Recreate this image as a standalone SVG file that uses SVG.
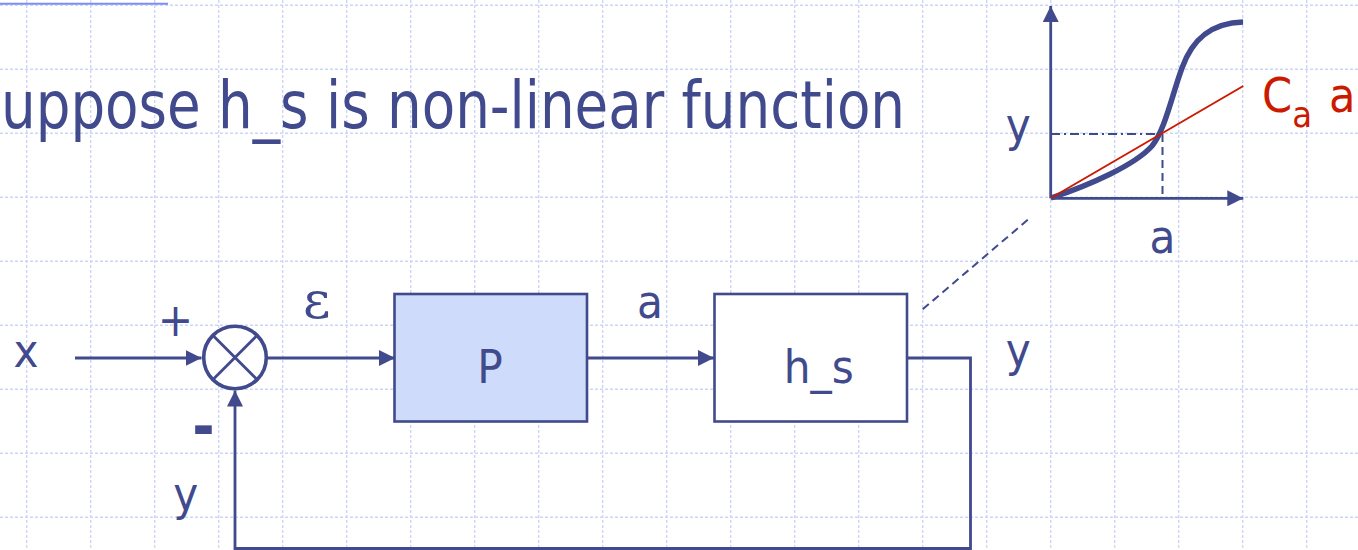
<svg xmlns="http://www.w3.org/2000/svg" width="1358" height="550" viewBox="0 0 1358 550">
<style>
.grid{fill:none;stroke:#cdd7f5;stroke-width:1.4;stroke-dasharray:3 2}
.ln{fill:none;stroke:#404a8c;stroke-width:2.8}
.box{stroke:#404a8c;stroke-width:2.6}
.t{font-family:'DejaVu Sans Condensed','DejaVu Sans',sans-serif;fill:#404a8c}
.lbl{font-size:47px;text-anchor:middle}
.red{fill:#cc1a00}
</style>
<defs>
<marker id="ah" markerUnits="userSpaceOnUse" markerWidth="16" markerHeight="16" refX="16" refY="8" orient="auto" viewBox="0 0 16 16">
<path d="M0,0 L16,8 L0,16 Z" fill="#404a8c"/>
</marker>
</defs>
<rect width="1358" height="550" fill="#ffffff"/>
<path class="grid" d="M26.7,0V550M90.7,0V550M154.7,0V550M218.7,0V550M282.7,0V550M346.7,0V550M410.7,0V550M474.7,0V550M538.7,0V550M602.7,0V550M666.7,0V550M730.7,0V550M794.7,0V550M858.7,0V550M922.7,0V550M986.7,0V550M1050.7,0V550M1114.7,0V550M1178.7,0V550M1242.7,0V550M1306.7,0V550M0,5.3H1358M0,69.3H1358M0,133.3H1358M0,197.3H1358M0,261.3H1358M0,325.3H1358M0,389.3H1358M0,453.3H1358M0,517.3H1358"/>
<line x1="0" y1="3.7" x2="168" y2="3.7" stroke="#7b8df0" stroke-width="2"/>
<text class="t" x="1" y="127.5" font-size="65" textLength="904" lengthAdjust="spacingAndGlyphs">uppose h_s is non-linear function</text>

<g id="connectors">
<line class="ln" x1="75" y1="358" x2="201.5" y2="358" marker-end="url(#ah)"/>
<line class="ln" x1="268" y1="358" x2="395" y2="358" marker-end="url(#ah)"/>
<line class="ln" x1="587" y1="358" x2="714" y2="358" marker-end="url(#ah)"/>
<polyline class="ln" points="907,358 970.5,358 970.5,548.5 235,548.5 235,390.5" marker-end="url(#ah)"/>
<line x1="922.7" y1="309.3" x2="1031" y2="217" stroke="#404a8c" stroke-width="2" stroke-dasharray="8 5"/>
</g>

<g id="junction">
<circle cx="235" cy="357.5" r="31.3" fill="#ffffff" stroke="#404a8c" stroke-width="3.6"/>
<line class="ln" x1="213" y1="335.5" x2="257" y2="379.5" stroke-width="3.2"/>
<line class="ln" x1="257" y1="335.5" x2="213" y2="379.5" stroke-width="3.2"/>
</g>

<g id="P">
<rect class="box" x="394.5" y="294" width="192.5" height="127.5" fill="#cedbfa"/>
<text class="t lbl" x="490" y="382.7" font-size="48">P</text>
</g>

<g id="h_s">
<rect class="box" x="714.5" y="294" width="192.5" height="127.5" fill="#ffffff"/>
<text class="t lbl" x="818.8" y="382.7" font-size="48">h_s</text>
</g>

<g id="labels">
<text class="t lbl" x="26" y="366.7">x</text>
<text class="t lbl" x="175.5" y="336">+</text>
<text class="t" x="203.5" y="447" font-size="60" font-weight="bold" text-anchor="middle">-</text>
<text x="316.7" y="318.3" font-family="'DejaVu Serif','Liberation Serif',serif" font-size="53" fill="#404a8c" text-anchor="middle">ε</text>
<text class="t lbl" x="650" y="318.3">a</text>
<text class="t lbl" x="1018.3" y="366">y</text>
<text class="t lbl" x="185.7" y="510">y</text>
</g>

<g id="graph">
<line class="ln" x1="1050.7" y1="198.3" x2="1050.7" y2="6" stroke-width="3.2" marker-end="url(#ah)"/>
<line class="ln" x1="1050.7" y1="198.3" x2="1243.3" y2="198.3" stroke-width="3.2" marker-end="url(#ah)"/>
<line x1="1051" y1="134" x2="1160" y2="134" stroke="#404a8c" stroke-width="2" stroke-dasharray="9 4 2 4"/>
<line x1="1162.5" y1="134" x2="1162.5" y2="196" stroke="#404a8c" stroke-width="2" stroke-dasharray="8 5"/>
<path d="M1051,198 C1090,185 1135,165 1152,146 C1165,130 1172,95 1182,68 C1192,40 1210,23 1243,22" fill="none" stroke="#404a8c" stroke-width="5.5"/>
<line x1="1051" y1="198" x2="1243.3" y2="86" stroke="#cc1a00" stroke-width="2"/>
<text class="t lbl" x="1018.3" y="141">y</text>
<text class="t lbl" x="1162.5" y="253">a</text>
<text class="t red" x="1262" y="111.7" font-size="48">C<tspan font-size="36" dy="15.5">a</tspan><tspan x="1329" dy="-15.5">a</tspan></text>
</g>
</svg>
